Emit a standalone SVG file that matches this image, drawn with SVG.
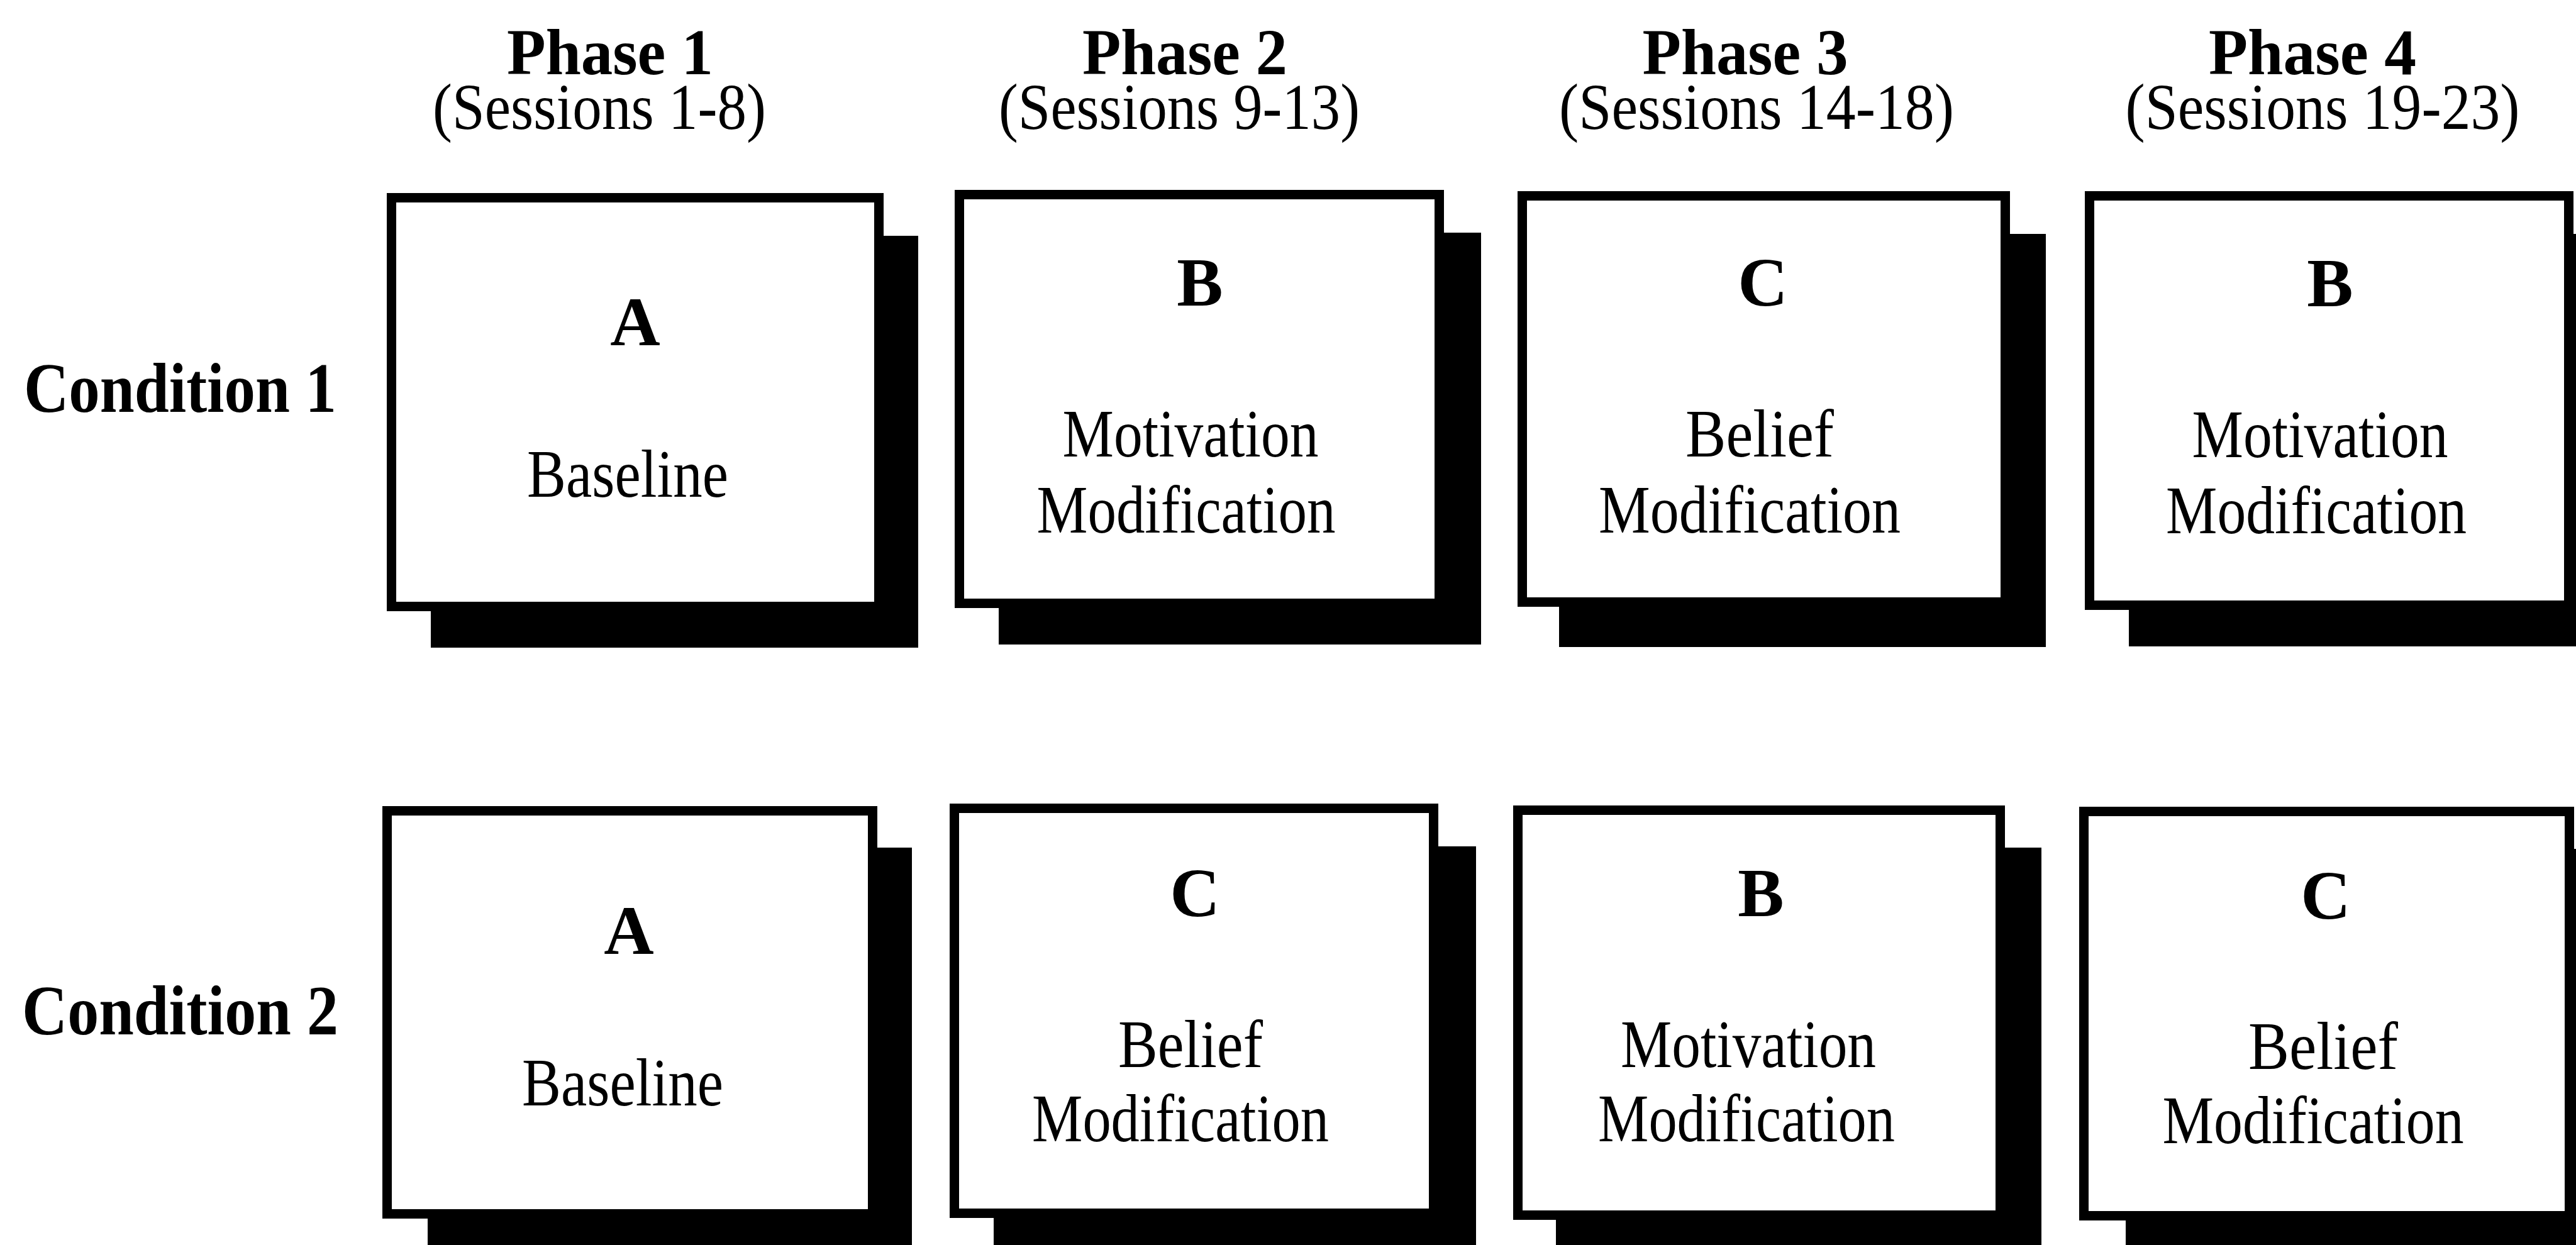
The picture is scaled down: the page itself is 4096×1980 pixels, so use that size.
<svg xmlns="http://www.w3.org/2000/svg" width="4096" height="1980" viewBox="0 0 4096 1980">
<style>
  .bg { fill: #ffffff; }
  .box { fill: #ffffff; stroke: #000000; stroke-width: 15; }
  .shadow { fill: #000000; }
  text { font-family: "Liberation Serif", "Times New Roman", serif; fill: #000000; text-anchor: middle; }
  .hdr { font-size: 104px; font-weight: bold; }
  .sess { font-size: 104px; font-weight: normal; }
  .cond { font-size: 112px; font-weight: bold; text-anchor: start; }
  .letter { font-size: 110px; font-weight: bold; }
  .lbl { font-size: 108px; }
</style>
<rect class="bg" x="0" y="0" width="4096" height="1980"/>

<g id="headers">
  <g id="phase1">
    <text><tspan class="hdr" x="970" y="118" textLength="328" lengthAdjust="spacingAndGlyphs">Phase 1</tspan><tspan class="sess" x="953" y="205" textLength="530" lengthAdjust="spacingAndGlyphs">(Sessions 1-8)</tspan></text>
  </g>
  <g id="phase2">
    <text><tspan class="hdr" x="1884" y="118" textLength="326" lengthAdjust="spacingAndGlyphs">Phase 2</tspan><tspan class="sess" x="1875" y="205" textLength="574" lengthAdjust="spacingAndGlyphs">(Sessions 9-13)</tspan></text>
  </g>
  <g id="phase3">
    <text><tspan class="hdr" x="2775" y="118" textLength="327" lengthAdjust="spacingAndGlyphs">Phase 3</tspan><tspan class="sess" x="2793" y="205" textLength="628" lengthAdjust="spacingAndGlyphs">(Sessions 14-18)</tspan></text>
  </g>
  <g id="phase4">
    <text><tspan class="hdr" x="3677" y="118" textLength="330" lengthAdjust="spacingAndGlyphs">Phase 4</tspan><tspan class="sess" x="3693" y="205" textLength="627" lengthAdjust="spacingAndGlyphs">(Sessions 19-23)</tspan></text>
  </g>
</g>

<g id="cond1">
  <text class="cond" x="38" y="655" textLength="497" lengthAdjust="spacingAndGlyphs">Condition 1</text>
</g>
<g id="cond2">
  <text class="cond" x="35" y="1645" textLength="503" lengthAdjust="spacingAndGlyphs">Condition 2</text>
</g>

<!-- Row 1 -->
<g id="r1c1">
  <rect class="shadow" x="685" y="375" width="775" height="655"/>
  <rect class="box" x="622.5" y="314.5" width="775" height="650"/>
  <text class="letter" x="1010" y="549">A</text>
  <text class="lbl" x="998" y="790" textLength="320" lengthAdjust="spacingAndGlyphs">Baseline</text>
</g>
<g id="r1c2">
  <rect class="shadow" x="1588" y="370" width="767" height="655"/>
  <rect class="box" x="1525.5" y="309.5" width="763" height="650"/>
  <text class="letter" x="1908" y="486">B</text>
  <text class="lbl" x="1893" y="726" textLength="407" lengthAdjust="spacingAndGlyphs">Motivation</text>
  <text class="lbl" x="1886" y="847" textLength="475" lengthAdjust="spacingAndGlyphs">Modification</text>
</g>
<g id="r1c3">
  <rect class="shadow" x="2479" y="372" width="774" height="657"/>
  <rect class="box" x="2420.5" y="311.5" width="768" height="646"/>
  <text class="letter" x="2803" y="486">C</text>
  <text class="lbl" x="2798" y="726" textLength="236" lengthAdjust="spacingAndGlyphs">Belief</text>
  <text class="lbl" x="2782" y="847" textLength="480" lengthAdjust="spacingAndGlyphs">Modification</text>
</g>
<g id="r1c4">
  <rect class="shadow" x="3385" y="372" width="762" height="656"/>
  <rect class="box" x="3322.5" y="311.5" width="762" height="651"/>
  <text class="letter" x="3705" y="487">B</text>
  <text class="lbl" x="3689" y="727" textLength="407" lengthAdjust="spacingAndGlyphs">Motivation</text>
  <text class="lbl" x="3683" y="848" textLength="478" lengthAdjust="spacingAndGlyphs">Modification</text>
</g>

<!-- Row 2 -->
<g id="r2c1">
  <rect class="shadow" x="680" y="1348" width="770" height="660"/>
  <rect class="box" x="615.5" y="1289.5" width="772" height="641"/>
  <text class="letter" x="1000" y="1517">A</text>
  <text class="lbl" x="990" y="1758" textLength="320" lengthAdjust="spacingAndGlyphs">Baseline</text>
</g>
<g id="r2c2">
  <rect class="shadow" x="1580" y="1346" width="767" height="660"/>
  <rect class="box" x="1517.5" y="1285.5" width="762" height="644"/>
  <text class="letter" x="1900" y="1457">C</text>
  <text class="lbl" x="1893" y="1697" textLength="230" lengthAdjust="spacingAndGlyphs">Belief</text>
  <text class="lbl" x="1877" y="1815" textLength="472" lengthAdjust="spacingAndGlyphs">Modification</text>
</g>
<g id="r2c3">
  <rect class="shadow" x="2474" y="1348" width="772" height="660"/>
  <rect class="box" x="2413.5" y="1288.5" width="767" height="644"/>
  <text class="letter" x="2800" y="1457">B</text>
  <text class="lbl" x="2780" y="1697" textLength="406" lengthAdjust="spacingAndGlyphs">Motivation</text>
  <text class="lbl" x="2777" y="1815" textLength="472" lengthAdjust="spacingAndGlyphs">Modification</text>
</g>
<g id="r2c4">
  <rect class="shadow" x="3380" y="1350" width="770" height="660"/>
  <rect class="box" x="3313.5" y="1290.5" width="772" height="643"/>
  <text class="letter" x="3698" y="1461">C</text>
  <text class="lbl" x="3694" y="1700" textLength="238" lengthAdjust="spacingAndGlyphs">Belief</text>
  <text class="lbl" x="3678" y="1818" textLength="479" lengthAdjust="spacingAndGlyphs">Modification</text>
</g>

<g id="connectors"></g>
</svg>
